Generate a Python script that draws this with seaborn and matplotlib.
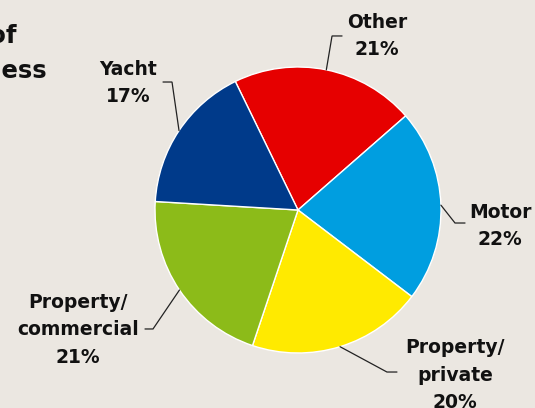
import matplotlib
matplotlib.use("Agg")
import matplotlib.pyplot as plt
import seaborn as sns
import numpy as np

# Portfolio split by class of business
categories = ["Other", "Motor", "Property/\nprivate", "Property/\ncommercial", "Yacht"]
shares = [21, 22, 20, 21, 17]
colors = ["#E60000", "#009EE0", "#FFEA00", "#8CBB19", "#003A8A"]

# label block centres and leader elbows (pie radius = 1)
label_pos = [(0.552, 1.217), (1.413, -0.112), (1.098, -1.154), (-1.538, -0.839), (-1.189, 0.888)]
elbows = [(0.238, 1.217), (1.098, -0.091), (0.622, -1.133), (-1.014, -0.832), (-0.881, 0.895)]
elbow_ends = [(0.308, 1.217), (1.168, -0.091), (0.692, -1.133), (-1.070, -0.832), (-0.944, 0.895)]

bg = "#EBE7E1"
sns.set_theme(style="white", rc={"figure.facecolor": bg, "axes.facecolor": bg})
plt.rcParams["font.family"] = ["DejaVu Sans"]

W, H = 535, 408
fig = plt.figure(figsize=(W / 100, H / 100), dpi=100)
fig.patch.set_facecolor(bg)

cx, cy, r = 298, 210, 143
ax = fig.add_axes([(cx - r) / W, (H - cy - r) / H, 2 * r / W, 2 * r / H])
wedges, _ = ax.pie(shares, colors=colors, startangle=116, counterclock=False,
                   wedgeprops=dict(edgecolor="white", linewidth=1.0))
ax.set_xlim(-1, 1)
ax.set_ylim(-1, 1)
ax.set_aspect("equal")
ax.set_axis_off()

for w, cat, val, lp, el, ee in zip(wedges, categories, shares, label_pos, elbows, elbow_ends):
    mid = np.deg2rad((w.theta1 + w.theta2) / 2)
    sx, sy = np.cos(mid), np.sin(mid)
    ax.plot([sx, el[0], ee[0]], [sy, el[1], ee[1]], color="#222222", lw=0.9,
            clip_on=False, solid_joinstyle="miter")
    ax.text(lp[0], lp[1], f"{cat}\n{val}%", ha="center", va="center",
            fontsize=13.5, fontweight="bold", color="#111111",
            linespacing=1.55, clip_on=False)

# title, running off the left edge
fig.text(16 / W, 1 - 43 / H, "Breakdown of", ha="right", va="baseline",
         fontsize=17.5, fontweight="bold", color="#111111")
fig.text(47 / W, 1 - 78 / H, "business", ha="right", va="baseline",
         fontsize=17.5, fontweight="bold", color="#111111")

fig.savefig("out.png", dpi=100, facecolor=bg)
